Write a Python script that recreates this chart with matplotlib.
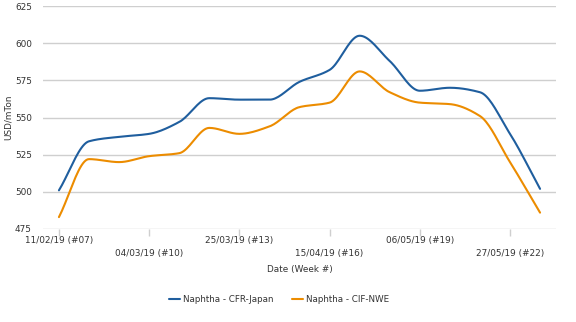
import numpy as np
import matplotlib
matplotlib.use("Agg")
import matplotlib.pyplot as plt

weeks = [7, 8, 9, 10, 11, 12, 13, 14, 15, 16, 17, 18, 19, 20, 21, 22, 23]
cfr_japan = [501, 534, 537, 539, 547, 563, 562, 562, 574, 582, 605, 588, 568, 570, 567, 539, 502]
cif_nwe = [483, 522, 520, 524, 526, 543, 539, 544, 557, 560, 581, 567, 560, 559, 551, 520, 486]
tick_weeks = [7, 10, 13, 16, 19, 22]
tick_labels = ["11/02/19 (#07)", "04/03/19 (#10)", "25/03/19 (#13)",
               "15/04/19 (#16)", "06/05/19 (#19)", "27/05/19 (#22)"]
series_names = ["Naphtha - CFR-Japan", "Naphtha - CIF-NWE"]
colors = ["#1f5e9e", "#ec8c00"]


def pchip(x, y, n=20):
    x = np.asarray(x, float)
    y = np.asarray(y, float)
    h = np.diff(x)
    d = np.diff(y) / h
    m = np.zeros_like(y)
    for k in range(1, len(y) - 1):
        if d[k - 1] * d[k] <= 0:
            m[k] = 0
        else:
            w1 = 2 * h[k] + h[k - 1]
            w2 = h[k] + 2 * h[k - 1]
            m[k] = (w1 + w2) / (w1 / d[k - 1] + w2 / d[k])
    m[0] = d[0]
    m[-1] = d[-1]
    xs, ys = [], []
    for k in range(len(x) - 1):
        t = np.linspace(0, 1, n, endpoint=False)
        h00 = 2 * t**3 - 3 * t**2 + 1
        h10 = t**3 - 2 * t**2 + t
        h01 = -2 * t**3 + 3 * t**2
        h11 = t**3 - t**2
        xs.append(x[k] + t * h[k])
        ys.append(h00 * y[k] + h10 * h[k] * m[k] + h01 * y[k + 1] + h11 * h[k] * m[k + 1])
    xs.append([x[-1]])
    ys.append([y[-1]])
    return np.concatenate(xs), np.concatenate(ys)


fig = plt.figure(figsize=(5.76, 3.22), dpi=100)
ax = fig.add_axes([43 / 576, 1 - 229 / 322, (556 - 43) / 576, (229 - 6) / 322])

for vals, name, c in zip([cfr_japan, cif_nwe], series_names, colors):
    sx, sy = pchip(weeks, vals)
    ax.plot(sx, sy, color=c, lw=1.5, label=name, solid_capstyle="round")

ax.set_xlim(6.47, 23.53)
ax.set_ylim(475, 625)
ax.set_yticks(np.arange(475, 626, 25))
ax.yaxis.grid(True, color="#cfcfcf", lw=1)
ax.set_axisbelow(True)
for s in ax.spines.values():
    s.set_visible(False)
ax.tick_params(axis="y", length=0, labelsize=6.4, labelcolor="#333333", pad=8)
ax.set_xticks(tick_weeks)
ax.set_xticklabels([])
ax.tick_params(axis="x", length=5, color="#cfcfcf", width=1)

for i, (w, lab) in enumerate(zip(tick_weeks, tick_labels)):
    yoff = -0.05 if i % 2 == 0 else -0.11
    ax.text(w, yoff, lab, transform=ax.get_xaxis_transform(), ha="center", va="center",
            fontsize=6.4, color="#333333")

ax.text(0.5, -0.18, "Date (Week #)", transform=ax.transAxes, ha="center", va="center",
        fontsize=6.4, color="#333333")
ax.set_ylabel("USD/mTon", fontsize=6.4, color="#333333")
ax.yaxis.set_label_coords(-0.058, 0.5)

fig.legend(loc="center", bbox_to_anchor=(279 / 576, 1 - 300 / 322), ncol=2, frameon=False,
           fontsize=6.3, handlelength=1.3, columnspacing=2.1, handletextpad=0.35,
           labelcolor="#333333")

fig.savefig("out.png", dpi=100)
